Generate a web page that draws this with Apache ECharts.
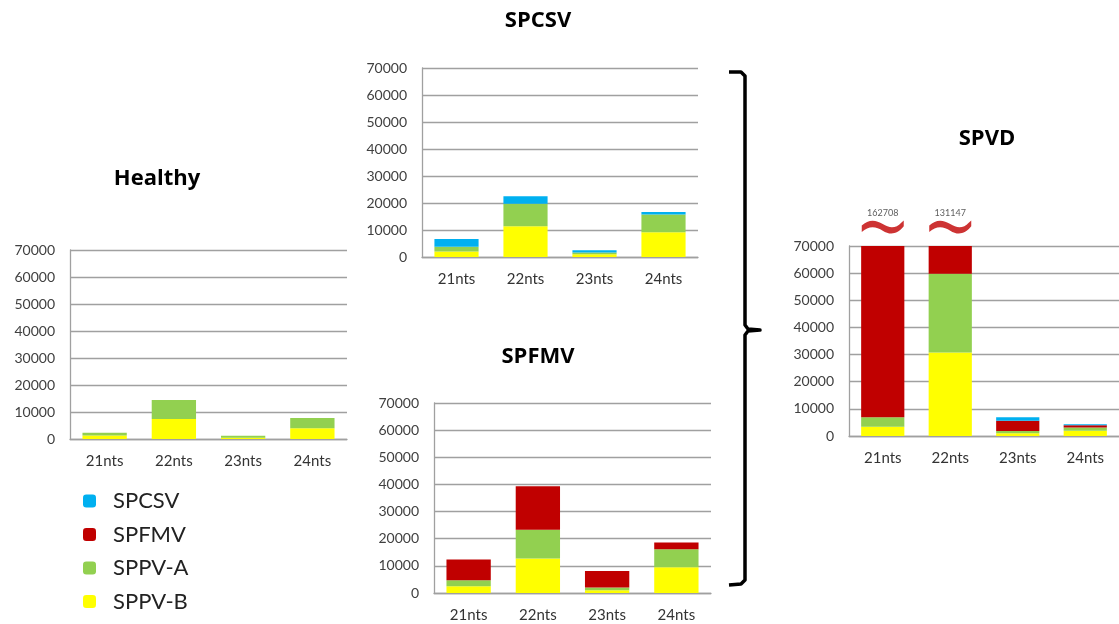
<!DOCTYPE html>
<html>
<head>
<meta charset="utf-8">
<style>
  html, body { margin: 0; padding: 0; background: #fff; }
  #chart { width: 1119px; height: 624px; }
</style>
<script src="https://cdn.jsdelivr.net/npm/echarts@6/dist/echarts.min.js"></script>
</head>
<body>
<div id="chart"></div>
<script>
// Small-RNA read counts by length, per virus, for each infection group
const categories = ['21nts', '22nts', '23nts', '24nts'];
const seriesNames = ['SPCSV', 'SPFMV', 'SPPV-A', 'SPPV-B'];
const yTicks = [0, 10000, 20000, 30000, 40000, 50000, 60000, 70000];

// Healthy plants
const healthyPPVB = [1300, 7400, 500, 4000];
const healthyPPVA = [1000, 7000, 700, 3800];

// SPCSV-infected plants
const spcsvPPVB = [2000, 11400, 1000, 9200];
const spcsvPPVA = [1800, 8300, 700, 6500];
const spcsvCSV = [2900, 2800, 800, 1000];

// SPFMV-infected plants
const spfmvPPVB = [2500, 12700, 1000, 9500];
const spfmvPPVA = [2200, 10600, 1000, 6600];
const spfmvFMV = [7600, 16000, 6100, 2500];

// SPVD (co-infected) plants
const spvdPPVB = [3400, 30800, 1000, 1900];
const spvdPPVA = [3500, 29000, 800, 1200];
const spvdFMV = [155808, 71347, 3800, 900];
const spvdCSV = [0, 0, 1300, 300];

const colors = {
  'SPCSV': '#00b0f0',
  'SPFMV': '#c00000',
  'SPPV-A': '#92d050',
  'SPPV-B': '#ffff00'
};

const FONT = 'Lato, "Open Sans", sans-serif';
const TITLE_FONT = '"Open Sans", Lato, sans-serif';
const yMax = yTicks[yTicks.length - 1];
const yStep = yTicks[1] - yTicks[0];

// Panel layout: [left, top, width, height]
const panels = [
  { title: 'Healthy', box: [70, 250, 277, 189], titlePos: [157, 179] },
  { title: 'SPCSV', box: [422, 68, 276, 189], titlePos: [538, 21] },
  { title: 'SPFMV', box: [434, 403, 277, 190], titlePos: [538, 357] },
  { title: 'SPVD', box: [849, 246, 276, 190], titlePos: [987, 139] }
];

const panelData = [
  { 'SPPV-B': healthyPPVB, 'SPPV-A': healthyPPVA },
  { 'SPPV-B': spcsvPPVB, 'SPPV-A': spcsvPPVA, 'SPCSV': spcsvCSV },
  { 'SPPV-B': spfmvPPVB, 'SPPV-A': spfmvPPVA, 'SPFMV': spfmvFMV },
  { 'SPPV-B': spvdPPVB, 'SPPV-A': spvdPPVA, 'SPFMV': spvdFMV, 'SPCSV': spvdCSV }
];

const stackOrder = ['SPPV-B', 'SPPV-A', 'SPFMV', 'SPCSV'];

const grid = [], xAxis = [], yAxis = [], series = [];

panels.forEach((p, i) => {
  grid.push({ left: p.box[0], top: p.box[1], width: p.box[2], height: p.box[3], containLabel: false });
  xAxis.push({
    type: 'category', gridIndex: i, data: categories,
    axisLine: { lineStyle: { color: '#a0a0a0', width: 1.3 } },
    axisTick: { show: false },
    axisLabel: { color: '#333', fontSize: 15, fontFamily: FONT, margin: 15 }
  });
  yAxis.push({
    type: 'value', gridIndex: i, min: 0, max: yMax, interval: yStep,
    axisLine: { show: true, lineStyle: { color: '#a0a0a0', width: 1.3 } },
    axisTick: { show: false },
    splitLine: { lineStyle: { color: '#a0a0a0', width: 1.3 } },
    axisLabel: {
      color: '#404040', fontSize: 14, fontFamily: FONT, margin: 15,
      formatter: v => String(v)
    }
  });
  stackOrder.forEach(name => {
    const vals = panelData[i][name];
    if (!vals) return;
    series.push({
      name, type: 'bar', stack: 'panel' + i,
      xAxisIndex: i, yAxisIndex: i,
      data: vals, barWidth: '64%',
      itemStyle: { color: colors[name] },
      clip: true, silent: true
    });
  });
});

// Break markers above SPVD bars that run past the axis maximum
const spvdTotals = categories.map((_, k) =>
  spvdPPVB[k] + spvdPPVA[k] + spvdFMV[k] + spvdCSV[k]);
const breakPoints = [];
spvdTotals.forEach((t, k) => {
  if (t > yMax) breakPoints.push({ value: [k, yMax, t] });
});
series.push({
  type: 'scatter', xAxisIndex: 3, yAxisIndex: 3, clip: false, silent: true,
  data: breakPoints,
  symbol: 'path://M0,8 C8,-1 17,0 25,6 C33,12 41,12 47,4 L50,1 L50,9 C42,21 33,21 25,15 C17,9 8,8 0,17 Z',
  symbolSize: [42, 13],
  symbolOffset: [0, -19],
  itemStyle: { color: '#c00000' },
  label: {
    show: true, position: 'top', distance: 3,
    formatter: p => String(p.value[2]),
    fontSize: 9, color: '#333', fontFamily: FONT
  }
});

// Panel titles and the brace grouping the single-virus panels
const graphic = panels.map(p => ({
  type: 'text', x: p.titlePos[0], y: p.titlePos[1], silent: true,
  style: {
    text: p.title, fill: '#000', font: 'bold 22px ' + TITLE_FONT,
    align: 'center', verticalAlign: 'middle'
  }
}));
graphic.push({
  type: 'polyline', silent: true,
  shape: {
    points: [[729, 72], [741, 72], [745, 76], [745, 325], [748, 329], [760, 330],
             [748, 331], [745, 335], [745, 580], [741, 584], [729, 585]]
  },
  style: { stroke: '#000', lineWidth: 3.5, fill: null, lineJoin: 'round' }
});

const chart = echarts.init(document.getElementById('chart'), null, { renderer: 'canvas' });
chart.setOption({
  animation: false,
  backgroundColor: '#fff',
  grid, xAxis, yAxis, series, graphic,
  legend: {
    orient: 'vertical', left: 83, top: 490, height: 130, padding: 0,
    data: seriesNames,
    icon: 'roundRect', itemWidth: 13, itemHeight: 13, itemGap: 11.5,
    textStyle: { fontSize: 22, lineHeight: 20, color: '#222', fontFamily: FONT, padding: [0, 0, 0, 12] },
    selectedMode: false
  }
});
</script>
</body>
</html>
